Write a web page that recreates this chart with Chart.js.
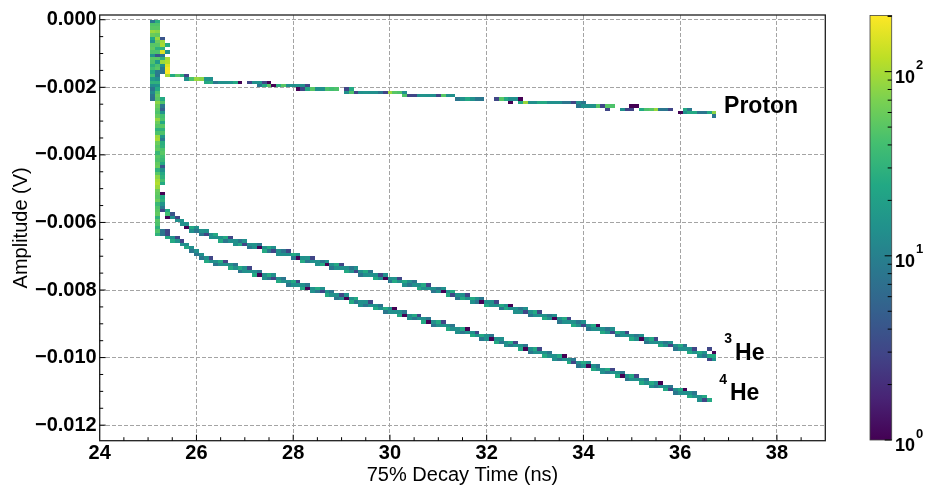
<!DOCTYPE html>
<html><head><meta charset="utf-8">
<script src="https://cdn.jsdelivr.net/npm/chart.js@4.4.1/dist/chart.umd.min.js"></script>
<style>html,body{margin:0;padding:0;background:#fff}canvas{display:block}</style>
</head><body>
<canvas id="c" width="925" height="489"></canvas>
<script>
// ---------------- data ----------------
// Axis ticks
const xTickValues = [24, 26, 28, 30, 32, 34, 36, 38];
const xTickLabels = ['24', '26', '28', '30', '32', '34', '36', '38'];
const yTickValues = [0, -0.002, -0.004, -0.006, -0.008, -0.010, -0.012];
const yTickLabels = ['0.000', '\u22120.002', '\u22120.004', '\u22120.006', '\u22120.008', '\u22120.010', '\u22120.012'];
const colorbarTickValues = [1, 10, 100];
const colorbarTickExponents = ['0', '1', '2'];
const countMax = 202;           // top of colour bar
const timeBinWidth = 0.1;       // ns
const ampBinWidth = 0.0001;     // V

// Histogram bins: [time bin centre (ns), amplitude bin centre (V), counts]
const riseBins = [
[25.1,-0.00005,8],[25.1,-0.00015,45],[25.1,-0.00025,50],[25.1,-0.00035,90],[25.1,-0.00045,60],[25.1,-0.00055,25],[25.1,-0.00065,14],[25.1,-0.00075,50],[25.1,-0.00085,55],[25.1,-0.00095,45],[25.1,-0.00105,15],[25.1,-0.00115,50],[25.1,-0.00125,45],[25.1,-0.00135,30],[25.1,-0.00145,40],[25.1,-0.00155,25],[25.1,-0.00165,40],[25.1,-0.00175,18],[25.1,-0.00185,30],[25.1,-0.00195,14],[25.1,-0.00205,8],[25.1,-0.00215,12],[25.1,-0.00225,8],[25.1,-0.00235,7],
[25.2,-0.00005,28],[25.2,-0.00015,45],[25.2,-0.00025,50],[25.2,-0.00035,80],[25.2,-0.00045,55],[25.2,-0.00055,90],[25.2,-0.00065,60],[25.2,-0.00075,50],[25.2,-0.00085,30],[25.2,-0.00095,45],[25.2,-0.00105,4],[25.2,-0.00115,50],[25.2,-0.00125,18],[25.2,-0.00135,45],[25.2,-0.00145,50],[25.2,-0.00155,9],[25.2,-0.00165,8],[25.2,-0.00175,14],[25.2,-0.00185,30],[25.2,-0.00195,15],[25.2,-0.00205,25],[25.2,-0.00215,45],[25.2,-0.00225,55],[25.2,-0.00235,50],[25.2,-0.00245,80],[25.2,-0.00255,60],[25.2,-0.00265,50],[25.2,-0.00275,45],[25.2,-0.00285,55],[25.2,-0.00295,85],[25.2,-0.00305,60],[25.2,-0.00315,50],[25.2,-0.00325,30],[25.2,-0.00335,45],[25.2,-0.00345,90],[25.2,-0.00355,100],[25.2,-0.00365,60],[25.2,-0.00375,50],[25.2,-0.00385,55],[25.2,-0.00395,35],[25.2,-0.00405,50],[25.2,-0.00415,45],[25.2,-0.00425,55],[25.2,-0.00435,60],[25.2,-0.00445,30],[25.2,-0.00455,50],[25.2,-0.00465,80],[25.2,-0.00475,100],[25.2,-0.00485,110],[25.2,-0.00495,90],[25.2,-0.00505,60],[25.2,-0.00515,55],[25.2,-0.00525,50],[25.2,-0.00535,60],[25.2,-0.00545,35],[25.2,-0.00555,45],[25.2,-0.00565,50],[25.2,-0.00575,55],[25.2,-0.00585,30],[25.2,-0.00595,50],[25.2,-0.00605,45],[25.2,-0.00615,30],[25.2,-0.00625,45],[25.2,-0.00635,30],
[25.3,-0.00055,4],[25.3,-0.00065,90],[25.3,-0.00075,100],[25.3,-0.00085,30],[25.3,-0.00095,150],[25.3,-0.00105,8],[25.3,-0.00115,30],[25.3,-0.00125,90],[25.3,-0.00135,14],[25.3,-0.00145,8],[25.3,-0.00155,7],
[25.3,-0.00235,25],[25.3,-0.00245,45],[25.3,-0.00255,8],[25.3,-0.00265,5],[25.3,-0.00275,15],[25.3,-0.00285,40],[25.3,-0.00295,45],[25.3,-0.00305,25],[25.3,-0.00315,50],[25.3,-0.00325,30],[25.3,-0.00335,45],[25.3,-0.00345,16],[25.3,-0.00355,9],[25.3,-0.00365,28],[25.3,-0.00375,30],[25.3,-0.00385,45],[25.3,-0.00395,50],[25.3,-0.00405,40],[25.3,-0.00415,35],[25.3,-0.00425,25],[25.3,-0.00435,4],[25.3,-0.00445,14],[25.3,-0.00455,25],[25.3,-0.00465,30],[25.3,-0.00475,40],[25.3,-0.00485,25],
[25.3,-0.00515,1],[25.3,-0.00525,25],[25.3,-0.00535,30],[25.3,-0.00545,15],
[25.4,-0.00075,25],[25.4,-0.00095,15],[25.4,-0.00115,100],[25.4,-0.00125,110],[25.4,-0.00135,160],[25.4,-0.00145,190],[25.4,-0.00155,200]
];

const protonBins = [
[25.4,-0.00165,100],[25.5,-0.00165,25],[25.6,-0.00165,50],[25.7,-0.00165,28],[25.8,-0.00165,3],
[25.8,-0.00175,14],[25.9,-0.00175,45],[26.0,-0.00175,90],[26.1,-0.00175,80],[26.2,-0.00175,15],[26.3,-0.00175,14],
[26.2,-0.00185,25],[26.3,-0.00185,28],[26.4,-0.00185,8],[26.5,-0.00185,14],[26.6,-0.00185,14],[26.7,-0.00185,15],[26.8,-0.00185,25],[26.9,-0.00185,1],[27.1,-0.00185,3],[27.2,-0.00185,14],[27.3,-0.00185,15],[27.4,-0.00185,3],[27.5,-0.00185,1],
[27.3,-0.00195,8],[27.4,-0.00195,25],[27.5,-0.00195,50],[27.6,-0.00195,1],[27.7,-0.00195,28],[27.8,-0.00195,50],[27.9,-0.00195,14],[28.0,-0.00195,14],[28.1,-0.00195,15],[28.2,-0.00195,14],[28.3,-0.00195,3],
[28.1,-0.00205,1],[28.2,-0.00205,3],[28.3,-0.00205,25],[28.4,-0.00205,50],[28.5,-0.00205,14],[28.6,-0.00205,14],[28.7,-0.00205,45],[28.8,-0.00205,40],[28.9,-0.00205,45],[29.1,-0.00205,3],[29.2,-0.00205,25],
[29.1,-0.00215,14],[29.2,-0.00215,45],[29.3,-0.00215,3],[29.4,-0.00215,14],[29.5,-0.00215,15],[29.6,-0.00215,14],[29.7,-0.00215,14],[29.8,-0.00215,8],[29.9,-0.00215,3],[30.0,-0.00215,90],[30.1,-0.00215,50],[30.2,-0.00215,45],[30.3,-0.00215,14],
[30.3,-0.00225,45],[30.4,-0.00225,3],[30.5,-0.00225,3],[30.6,-0.00225,14],[30.7,-0.00225,15],[30.8,-0.00225,14],[30.9,-0.00225,14],[31.0,-0.00225,3],[31.1,-0.00225,50],[31.2,-0.00225,14],[31.3,-0.00225,14],
[31.4,-0.00235,8],[31.5,-0.00235,14],[31.6,-0.00235,25],[31.7,-0.00235,14],[31.8,-0.00235,8],[31.9,-0.00235,8],[32.2,-0.00235,3],[32.3,-0.00235,50],[32.4,-0.00235,25],[32.5,-0.00235,14],[32.6,-0.00235,14],[32.7,-0.00235,1],
[32.5,-0.00245,1],[32.7,-0.00245,25],[32.8,-0.00245,90],[32.9,-0.00245,14],[33.0,-0.00245,14],[33.1,-0.00245,25],[33.2,-0.00245,25],[33.3,-0.00245,14],[33.4,-0.00245,14],[33.5,-0.00245,14],[33.6,-0.00245,8],[33.7,-0.00245,8],[33.8,-0.00245,3],[33.9,-0.00245,14],[34.0,-0.00245,8],
[33.9,-0.00255,8],[34.0,-0.00255,14],[34.1,-0.00255,14],[34.2,-0.00255,14],[34.3,-0.00255,50],[34.4,-0.00255,3],[34.5,-0.00255,50],[34.6,-0.00255,45],[35.0,-0.00255,1],[35.1,-0.00255,1],
[34.5,-0.00265,3],[34.8,-0.00265,14],[34.9,-0.00265,3],[35.0,-0.00265,3],[35.2,-0.00265,25],[35.3,-0.00265,45],[35.4,-0.00265,50],[35.5,-0.00265,90],[35.6,-0.00265,8],[35.7,-0.00265,8],[35.8,-0.00265,3],[36.1,-0.00265,25],[36.2,-0.00265,8],
[36.0,-0.00275,1],[36.1,-0.00275,14],[36.2,-0.00275,25],[36.3,-0.00275,25],[36.4,-0.00275,8],[36.5,-0.00275,8],[36.6,-0.00275,25],[36.7,-0.00275,80],
[36.7,-0.00285,8]
];

const he3Bins = [
[25.3,-0.00555,8],[25.3,-0.00565,3],[25.4,-0.00565,25],[25.4,-0.00575,40],[25.4,-0.00585,1],[25.5,-0.00575,4],[25.5,-0.00585,14],[25.6,-0.00585,3],[25.6,-0.00595,14],[25.7,-0.00595,15],[25.7,-0.00605,14],[25.8,-0.00605,14],[25.8,-0.00615,1],[25.9,-0.00615,25],[26.0,-0.00615,14],[26.0,-0.00625,8],
[26.1,-0.00625,15],[26.2,-0.00625,14],[26.2,-0.00635,3],[26.3,-0.00635,14],[26.4,-0.00635,25],[26.4,-0.00645,14],[26.5,-0.00645,14],[26.6,-0.00645,25],[26.7,-0.00645,3],[26.7,-0.00655,14],[26.8,-0.00655,14],[26.9,-0.00655,8],[27.0,-0.00655,14],[27.0,-0.00665,3],
[27.1,-0.00665,14],[27.2,-0.00665,15],[27.3,-0.00665,8],[27.3,-0.00675,1],[27.4,-0.00675,14],[27.5,-0.00675,25],[27.6,-0.00675,14],[27.6,-0.00685,3],[27.7,-0.00685,14],[27.8,-0.00685,8],[27.9,-0.00685,3],[27.9,-0.00695,14],[28.0,-0.00695,25],
[28.1,-0.00695,14],[28.1,-0.00705,1],[28.2,-0.00705,14],[28.3,-0.00705,15],[28.4,-0.00705,3],[28.4,-0.00715,14],[28.5,-0.00715,14],[28.6,-0.00715,8],[28.7,-0.00715,14],[28.7,-0.00725,1],[28.8,-0.00725,14],[28.9,-0.00725,25],[29.0,-0.00725,3],[29.0,-0.00735,14],
[29.1,-0.00735,14],[29.2,-0.00735,8],[29.3,-0.00735,14],[29.3,-0.00745,3],[29.4,-0.00745,14],[29.5,-0.00745,25],[29.6,-0.00745,8],[29.6,-0.00755,14],[29.7,-0.00755,14],[29.8,-0.00755,3],[29.9,-0.00755,14],[29.9,-0.00765,1],[30.0,-0.00765,14],
[30.1,-0.00765,15],[30.2,-0.00765,3],[30.2,-0.00775,14],[30.3,-0.00775,25],[30.4,-0.00775,14],[30.5,-0.00775,8],[30.5,-0.00785,14],[30.6,-0.00785,14],[30.7,-0.00785,25],[30.8,-0.00785,3],[30.8,-0.00795,14],[30.9,-0.00795,14],[31.0,-0.00795,8],
[31.1,-0.00795,14],[31.1,-0.00805,1],[31.2,-0.00805,14],[31.3,-0.00805,25],[31.3,-0.00815,3],[31.4,-0.00815,14],[31.5,-0.00815,14],[31.6,-0.00815,3],[31.6,-0.00825,14],[31.7,-0.00825,25],[31.8,-0.00825,14],[31.9,-0.00825,8],[31.9,-0.00835,1],[32.0,-0.00835,14],
[32.1,-0.00835,14],[32.2,-0.00835,3],[32.2,-0.00845,14],[32.3,-0.00845,25],[32.4,-0.00845,14],[32.5,-0.00845,1],[32.5,-0.00855,14],[32.6,-0.00855,14],[32.7,-0.00855,8],[32.8,-0.00855,14],[32.8,-0.00865,3],[32.9,-0.00865,14],[33.0,-0.00865,25],
[33.1,-0.00865,3],[33.1,-0.00875,14],[33.2,-0.00875,14],[33.3,-0.00875,8],[33.4,-0.00875,14],[33.4,-0.00885,1],[33.5,-0.00885,14],[33.6,-0.00885,25],[33.7,-0.00885,3],[33.7,-0.00895,14],[33.8,-0.00895,14],[33.9,-0.00895,8],[34.0,-0.00895,14],[34.0,-0.00905,3],
[34.1,-0.00905,14],[34.2,-0.00905,25],[34.3,-0.00905,1],[34.3,-0.00915,14],[34.4,-0.00915,14],[34.5,-0.00915,8],[34.6,-0.00915,14],[34.6,-0.00925,3],[34.7,-0.00925,25],[34.8,-0.00925,14],[34.9,-0.00925,3],[34.9,-0.00935,14],[35.0,-0.00935,14],
[35.1,-0.00935,8],[35.2,-0.00935,14],[35.2,-0.00945,1],[35.3,-0.00945,14],[35.4,-0.00945,25],[35.5,-0.00945,3],[35.5,-0.00955,14],[35.6,-0.00955,14],[35.7,-0.00955,8],[35.8,-0.00955,14],[35.8,-0.00965,3],[35.9,-0.00965,14],[36.0,-0.00965,25],
[36.1,-0.00965,8],[36.1,-0.00975,14],[36.2,-0.00975,14],[36.3,-0.00975,3],[36.3,-0.00985,14],[36.4,-0.00985,25],[36.5,-0.00985,14],[36.5,-0.00995,8],[36.6,-0.00975,3],[36.6,-0.00995,25],[36.6,-0.01005,3],[36.7,-0.00985,1],[36.7,-0.00995,25],[36.7,-0.01005,14],
[25.9,-0.00625,14],[26.1,-0.00635,8],[26.3,-0.00645,14],[26.5,-0.00655,25],[26.6,-0.00655,8],[26.8,-0.00665,14],[26.9,-0.00665,25],[27.1,-0.00675,8],[27.2,-0.00675,14],[27.4,-0.00685,25],[27.5,-0.00685,8],[27.7,-0.00695,14],[27.8,-0.00695,14],[28.0,-0.00705,8],[28.2,-0.00715,25],[28.3,-0.00715,8],[28.5,-0.00725,14],[28.6,-0.00725,25],[28.8,-0.00735,8],[28.9,-0.00735,14],
[29.1,-0.00745,25],[29.2,-0.00745,14],[29.4,-0.00755,8],[29.5,-0.00755,14],[29.7,-0.00765,25],[29.8,-0.00765,14],[30.0,-0.00775,8],[30.1,-0.00775,25],[30.3,-0.00785,14],[30.4,-0.00785,8],[30.6,-0.00795,25],[30.7,-0.00795,14],[30.9,-0.00805,8],[31.0,-0.00805,14],[31.2,-0.00815,25],[31.4,-0.00825,8],[31.5,-0.00825,25],[31.7,-0.00835,14],[31.8,-0.00835,8],
[32.0,-0.00845,25],[32.1,-0.00845,14],[32.3,-0.00855,8],[32.4,-0.00855,25],[32.6,-0.00865,14],[32.7,-0.00865,14],[32.9,-0.00875,8],[33.0,-0.00875,14],[33.2,-0.00885,25],[33.3,-0.00885,14],[33.5,-0.00895,8],[33.6,-0.00895,14],[33.8,-0.00905,25],[33.9,-0.00905,14],[34.1,-0.00915,8],[34.2,-0.00915,14],[34.4,-0.00925,25],[34.5,-0.00925,14],
[34.7,-0.00935,8],[34.8,-0.00935,14],[35.0,-0.00945,25],[35.1,-0.00945,14],[35.3,-0.00955,8],[35.4,-0.00955,14],[35.6,-0.00965,25],[35.7,-0.00965,14],[35.9,-0.00975,8],[36.0,-0.00975,14],[36.2,-0.00985,25],[36.4,-0.00995,14]
];

const he4Bins = [
[25.3,-0.00625,8],[25.3,-0.00635,8],[25.4,-0.00625,3],[25.4,-0.00635,3],[25.4,-0.00645,25],[25.5,-0.00645,14],[25.5,-0.00655,25],[25.6,-0.00645,3],[25.6,-0.00655,14],[25.7,-0.00655,3],[25.7,-0.00665,14],[25.8,-0.00665,14],[25.8,-0.00675,25],[25.9,-0.00675,14],[26.0,-0.00685,14],[26.0,-0.00695,8],
[26.1,-0.00695,14],[26.1,-0.00705,8],[26.2,-0.00705,14],[26.3,-0.00705,3],[26.3,-0.00715,14],[26.4,-0.00715,14],[26.5,-0.00715,25],[26.6,-0.00715,3],[26.6,-0.00725,14],[26.7,-0.00725,14],[26.8,-0.00725,8],[26.8,-0.00735,14],[26.9,-0.00735,25],[27.0,-0.00735,14],
[27.1,-0.00735,3],[27.1,-0.00745,14],[27.2,-0.00745,14],[27.3,-0.00745,8],[27.3,-0.00755,1],[27.4,-0.00755,14],[27.5,-0.00755,25],[27.6,-0.00755,14],[27.6,-0.00765,3],[27.7,-0.00765,14],[27.8,-0.00765,8],[27.8,-0.00775,14],[27.9,-0.00775,14],[28.0,-0.00775,25],
[28.1,-0.00775,3],[28.1,-0.00785,14],[28.2,-0.00785,14],[28.3,-0.00785,8],[28.3,-0.00795,1],[28.4,-0.00795,14],[28.5,-0.00795,25],[28.6,-0.00795,14],[28.6,-0.00805,3],[28.7,-0.00805,14],[28.8,-0.00805,8],[28.8,-0.00815,14],[28.9,-0.00815,14],[29.0,-0.00815,3],
[29.1,-0.00815,14],[29.1,-0.00825,1],[29.2,-0.00825,14],[29.3,-0.00825,25],[29.3,-0.00835,8],[29.4,-0.00835,14],[29.5,-0.00835,14],[29.6,-0.00835,3],[29.6,-0.00845,14],[29.7,-0.00845,14],[29.8,-0.00845,8],[29.8,-0.00855,14],[29.9,-0.00855,25],[30.0,-0.00855,14],
[30.1,-0.00855,1],[30.1,-0.00865,14],[30.2,-0.00865,14],[30.3,-0.00865,8],[30.3,-0.00875,1],[30.4,-0.00875,14],[30.5,-0.00875,25],[30.6,-0.00875,3],[30.6,-0.00885,14],[30.7,-0.00885,14],[30.8,-0.00885,8],[30.8,-0.00895,1],[30.9,-0.00895,14],[31.0,-0.00895,25],
[31.1,-0.00895,3],[31.1,-0.00905,14],[31.2,-0.00905,14],[31.3,-0.00905,8],[31.3,-0.00915,14],[31.4,-0.00915,14],[31.5,-0.00915,25],[31.6,-0.00915,1],[31.6,-0.00925,14],[31.7,-0.00925,14],[31.8,-0.00925,3],[31.8,-0.00935,14],[31.9,-0.00935,25],[32.0,-0.00935,14],
[32.1,-0.00935,8],[32.1,-0.00945,1],[32.2,-0.00945,14],[32.3,-0.00945,14],[32.3,-0.00955,8],[32.4,-0.00955,14],[32.5,-0.00955,25],[32.6,-0.00955,3],[32.6,-0.00965,14],[32.7,-0.00965,14],[32.8,-0.00965,8],[32.8,-0.00975,1],[32.9,-0.00975,14],[33.0,-0.00975,25],
[33.1,-0.00975,3],[33.1,-0.00985,14],[33.2,-0.00985,14],[33.3,-0.00985,8],[33.3,-0.00995,14],[33.4,-0.00995,14],[33.5,-0.00995,25],[33.6,-0.00995,1],[33.6,-0.01005,14],[33.7,-0.01005,14],[33.8,-0.01005,8],[33.8,-0.01015,3],[33.9,-0.01015,14],[34.0,-0.01015,25],
[34.1,-0.01015,14],[34.1,-0.01025,1],[34.2,-0.01025,14],[34.3,-0.01025,8],[34.3,-0.01035,14],[34.4,-0.01035,14],[34.5,-0.01035,25],[34.6,-0.01035,3],[34.6,-0.01045,14],[34.7,-0.01045,14],[34.8,-0.01045,8],[34.8,-0.01055,1],[34.9,-0.01055,14],[35.0,-0.01055,25],
[35.1,-0.01055,3],[35.1,-0.01065,14],[35.2,-0.01065,14],[35.3,-0.01065,8],[35.3,-0.01075,14],[35.4,-0.01075,25],[35.5,-0.01075,14],[35.6,-0.01075,1],[35.6,-0.01085,14],[35.7,-0.01085,14],[35.8,-0.01085,8],[35.8,-0.01095,3],[35.9,-0.01095,14],[36.0,-0.01095,25],
[36.1,-0.01095,1],[36.1,-0.01105,14],[36.2,-0.01105,14],[36.3,-0.01105,8],[36.3,-0.01115,14],[36.4,-0.01115,14],[36.5,-0.01115,25],[36.5,-0.01125,3],[36.6,-0.01125,25],
[25.9,-0.00685,8],[26.2,-0.00715,25],[26.4,-0.00725,8],[26.5,-0.00725,14],[26.7,-0.00735,25],[26.9,-0.00745,8],[27.0,-0.00745,14],[27.2,-0.00755,25],[27.4,-0.00765,14],[27.5,-0.00765,8],[27.7,-0.00775,25],[27.9,-0.00785,8],[28.0,-0.00785,14],[28.2,-0.00795,25],[28.4,-0.00805,14],[28.5,-0.00805,8],[28.7,-0.00815,25],[28.9,-0.00825,8],[29.0,-0.00825,14],
[29.2,-0.00835,25],[29.4,-0.00845,14],[29.5,-0.00845,8],[29.7,-0.00855,25],[29.9,-0.00865,8],[30.0,-0.00865,14],[30.2,-0.00875,25],[30.4,-0.00885,14],[30.5,-0.00885,8],[30.7,-0.00895,25],[30.9,-0.00905,8],[31.0,-0.00905,14],[31.2,-0.00915,25],[31.4,-0.00925,14],[31.5,-0.00925,8],[31.7,-0.00935,25],[31.9,-0.00945,8],[32.0,-0.00945,14],
[32.2,-0.00955,25],[32.4,-0.00965,14],[32.5,-0.00965,8],[32.7,-0.00975,25],[32.9,-0.00985,8],[33.0,-0.00985,14],[33.2,-0.00995,25],[33.4,-0.01005,14],[33.5,-0.01005,8],[33.7,-0.01015,25],[33.9,-0.01025,8],[34.0,-0.01025,14],[34.2,-0.01035,25],[34.4,-0.01045,14],[34.5,-0.01045,8],[34.7,-0.01055,25],[34.9,-0.01065,8],[35.0,-0.01065,14],
[35.2,-0.01075,25],[35.4,-0.01085,14],[35.5,-0.01085,8],[35.7,-0.01095,25],[35.9,-0.01105,8],[36.0,-0.01105,14],[36.2,-0.01115,25],[36.4,-0.01125,14]
];

// ---------------- styling ----------------
const FONT = '"Liberation Sans", Arial, Helvetica, sans-serif';
const VIRIDIS = ['#440154','#482475','#414487','#355f8d','#2a788e','#21918c','#22a884','#44bf70','#7ad151','#bddf26','#fde725'];

function hexToRgb(h){return [parseInt(h.slice(1,3),16),parseInt(h.slice(3,5),16),parseInt(h.slice(5,7),16)];}
const VIR_RGB = VIRIDIS.map(hexToRgb);
function viridis(t){
  t = Math.max(0, Math.min(1, t));
  const s = t * (VIR_RGB.length - 1);
  const i = Math.min(Math.floor(s), VIR_RGB.length - 2);
  const f = s - i;
  const a = VIR_RGB[i], b = VIR_RGB[i+1];
  return 'rgb(' + [0,1,2].map(k => Math.round(a[k] + (b[k]-a[k])*f)).join(',') + ')';
}
function countColor(n){ return viridis(Math.log10(n) / Math.log10(countMax)); }

const toPoints = bins => bins.map(b => ({x: b[0], y: b[1], n: b[2]}));

// annotation texts, anchored in data coordinates
const notes = [
  {text: 'Proton', sup: '', x: 36.907, y: -0.002758},
  {text: 'He', sup: '3', x: 37.134, y: -0.010077, supDx: -10.7, supDy: -17.6},
  {text: 'He', sup: '4', x: 37.03, y: -0.011268, supDx: -10.7, supDy: -16.7}
];

const histPlugin = {
  id: 'hist2d',
  beforeDatasetsDraw(chart) {
    const {ctx, chartArea: a, scales: {x, y}} = chart;
    ctx.save();
    ctx.beginPath();
    ctx.rect(a.left, a.top, a.right - a.left, a.bottom - a.top);
    ctx.clip();
    chart.data.datasets.forEach(ds => {
      ds.data.forEach(p => {
        const x0 = Math.round(x.getPixelForValue(p.x - timeBinWidth / 2));
        const x1 = Math.round(x.getPixelForValue(p.x + timeBinWidth / 2));
        const y0 = Math.round(y.getPixelForValue(p.y + ampBinWidth / 2));
        const y1 = Math.round(y.getPixelForValue(p.y - ampBinWidth / 2));
        ctx.fillStyle = countColor(p.n);
        ctx.fillRect(x0, y0, x1 - x0, y1 - y0);
      });
    });
    ctx.restore();
  },
  afterDraw(chart) {
    const {ctx, chartArea: a, scales: {x, y}} = chart;
    ctx.save();
    // frame
    ctx.strokeStyle = '#1e1e1e';
    ctx.lineWidth = 1.3;
    ctx.strokeRect(a.left, a.top, a.right - a.left, a.bottom - a.top);
    // inward ticks
    ctx.strokeStyle = '#000';
    ctx.lineWidth = 1;
    ctx.beginPath();
    for (let k = 1; k < 30; k++) {
      const v = 24 + k * 0.5;
      const px = x.getPixelForValue(v);
      const len = (k % 4 === 0) ? 6 : 3.5;
      ctx.moveTo(px, a.bottom); ctx.lineTo(px, a.bottom - len);
    }
    for (let k = 0; k <= 24; k++) {
      const v = -k * 0.0005;
      const py = y.getPixelForValue(v);
      const len = (k % 4 === 0) ? 6 : 3.5;
      ctx.moveTo(a.left, py); ctx.lineTo(a.left + len, py);
    }
    ctx.stroke();

    // colour bar
    const cb = {left: a.right + 44.7, right: a.right + 66.4, top: a.top + 0.4, bottom: a.bottom - 0.7};
    const grad = ctx.createLinearGradient(0, cb.bottom, 0, cb.top);
    VIRIDIS.forEach((c, i) => grad.addColorStop(i / (VIRIDIS.length - 1), c));
    ctx.fillStyle = grad;
    ctx.fillRect(cb.left, cb.top, cb.right - cb.left, cb.bottom - cb.top);
    ctx.strokeStyle = '#444';
    ctx.lineWidth = 0.8;
    ctx.strokeRect(cb.left, cb.top, cb.right - cb.left, cb.bottom - cb.top);
    const lmax = Math.log10(countMax);
    const cbY = v => cb.bottom - Math.log10(v) / lmax * (cb.bottom - cb.top);
    ctx.strokeStyle = '#000';
    ctx.lineWidth = 1;
    ctx.beginPath();
    [1, 10, 100].forEach(dec => {
      for (let m = 1; m <= 9; m++) {
        const v = dec * m;
        if (v > countMax) break;
        const py = cbY(v);
        const len = m === 1 ? 7 : 4;
        ctx.moveTo(cb.right, py); ctx.lineTo(cb.right - len, py);
      }
    });
    ctx.moveTo(cb.right, cbY(200)); ctx.lineTo(cb.right - 4, cbY(200));
    ctx.stroke();
    ctx.fillStyle = '#000';
    ctx.textAlign = 'left';
    ctx.textBaseline = 'alphabetic';
    colorbarTickValues.forEach((v, i) => {
      const py = cbY(v);
      ctx.font = 'bold 18px ' + FONT;
      ctx.fillText('10', cb.right + 3.3, py + 11.3);
      const w = ctx.measureText('10').width;
      ctx.font = 'bold 13px ' + FONT;
      ctx.fillText(colorbarTickExponents[i], cb.right + 3.3 + w + 1, py - 2.5);
    });

    // particle labels
    notes.forEach(nt => {
      const px = x.getPixelForValue(nt.x);
      const py = y.getPixelForValue(nt.y);
      ctx.font = 'bold 23px ' + FONT;
      ctx.fillText(nt.text, px, py);
      if (nt.sup) {
        ctx.font = 'bold 14px ' + FONT;
        ctx.fillText(nt.sup, px + nt.supDx, py + nt.supDy);
      }
    });
    ctx.restore();
  }
};

new Chart(document.getElementById('c').getContext('2d'), {
  type: 'scatter',
  data: {
    datasets: [
      {label: 'rise', data: toPoints(riseBins)},
      {label: 'proton', data: toPoints(protonBins)},
      {label: '3He', data: toPoints(he3Bins)},
      {label: '4He', data: toPoints(he4Bins)}
    ]
  },
  options: {
    responsive: false,
    animation: false,
    devicePixelRatio: 1,
    events: [],
    layout: {padding: {left: 0, top: 10.3, right: 99.7, bottom: 0}},
    elements: {point: {radius: 0, hoverRadius: 0, hitRadius: 0}},
    plugins: {legend: {display: false}, tooltip: {enabled: false}},
    scales: {
      x: {
        type: 'linear', min: 24, max: 39,
        afterBuildTicks: s => { s.ticks = xTickValues.map(v => ({value: v})); },
        afterFit: s => { s.height = 48.3; },
        ticks: {
          callback: (v, i) => xTickLabels[i],
          font: {family: FONT, size: 20, weight: 'bold'}, color: '#000',
          padding: 1, maxRotation: 0, autoSkip: false
        },
        grid: {color: '#a4a4a4', lineWidth: 1, drawTicks: false},
        border: {display: false, dash: [4, 2]},
        title: {display: true, text: '75% Decay Time (ns)', font: {family: FONT, size: 20}, color: '#000', padding: {top: 0, bottom: 2}}
      },
      y: {
        type: 'linear', min: -0.01246, max: 0.00014,
        afterBuildTicks: s => { s.ticks = yTickValues.map(v => ({value: v})); },
        afterFit: s => { s.width = 99.7; },
        ticks: {
          callback: (v, i) => yTickLabels[i],
          font: {family: FONT, size: 20, weight: 'bold'}, color: '#000',
          padding: 3, autoSkip: false
        },
        grid: {color: '#a4a4a4', lineWidth: 1, drawTicks: false},
        border: {display: false, dash: [4, 2]},
        title: {display: true, text: 'Amplitude (V)', font: {family: FONT, size: 20}, color: '#000', padding: {top: 9, bottom: 0}}
      }
    }
  },
  plugins: [histPlugin]
});
</script>
</body></html>
